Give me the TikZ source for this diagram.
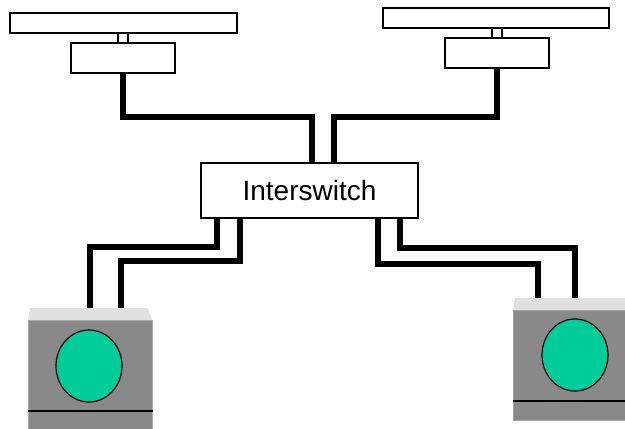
\documentclass[tikz,border=0pt]{standalone}
\usepackage{fontspec}
\setmainfont{Liberation Sans}
\usetikzlibrary{calc}
\definecolor{srvgray}{HTML}{898989}
\definecolor{srvtop}{HTML}{E0E0E0}
\definecolor{srvedge}{HTML}{A8A8A8}
\definecolor{disc}{HTML}{00CC99}
\tikzset{
  box/.style={draw=black, line width=1.4pt, fill=white, inner sep=0pt},
  wire/.style={draw=black, line width=5.5pt, line cap=butt, line join=miter},
  body/.style={fill=srvgray, draw=srvedge, line width=1pt, inner sep=0pt},
}
\begin{document}
\begin{tikzpicture}[x=1pt, y=-1pt]
\useasboundingbox (0,0) rectangle (625,429);
% top-left unit
\node[box, minimum width=227pt, minimum height=20pt] (lbar) at (123.5,23) {};
\node[box, minimum width=10pt, minimum height=10pt] (lcon) at (123,38) {};
\node[box, minimum width=104pt, minimum height=30pt] (lbox) at (123,58) {};
% top-right unit
\node[box, minimum width=226pt, minimum height=20pt] (rbar) at (496,18) {};
\node[box, minimum width=10pt, minimum height=10pt] (rcon) at (497,33) {};
\node[box, minimum width=104pt, minimum height=30pt] (rbox) at (497,53) {};
% interswitch
\node[box, line width=2pt, minimum width=217pt, minimum height=55pt, font=\fontsize{28}{32}\selectfont] (isw) at (309.5,190.5) {Interswitch};
% servers
\fill[srvtop] (30,308) -- (148,308) -- (152,320) -- (28,320) -- cycle;
\node[body, minimum width=124pt, minimum height=115pt, anchor=north west] (lsrv) at (28,320) {};
\draw[line width=1.2pt] (lsrv.west |- 0,411) -- (lsrv.east |- 0,411);
\draw[fill=disc, line width=1.2pt] (89,366) ellipse [x radius=33, y radius=36];
\fill[srvtop] (515,298) -- (630,298) -- (630,310) -- (513,310) -- cycle;
\node[body, minimum width=120pt, minimum height=110pt, anchor=north west] (rsrv) at (513,310) {};
\draw[line width=1.2pt] (rsrv.west |- 0,401) -- (625,401);
\draw[fill=disc, line width=1.2pt] (575,355) ellipse [x radius=33, y radius=36];
% connection points
\coordinate (it1) at (312,163);
\coordinate (it2) at (334,163);
\coordinate (ib1) at (217,218);
\coordinate (ib2) at (240,218);
\coordinate (ib3) at (378,218);
\coordinate (ib4) at (400,218);
\coordinate (ls1) at (90,308);
\coordinate (ls2) at (121,308);
\coordinate (rs1) at (538,298);
\coordinate (rs2) at (575,298);
% wires
\draw[wire] (lbox.south) -- (lbox.south |- 0,117) -| (it1);
\draw[wire] (rbox.south) -- (rbox.south |- 0,117) -| (it2);
\draw[wire] (ib1) -- (ib1 |- 0,247) -| (ls1);
\draw[wire] (ib2) -- (ib2 |- 0,261) -| (ls2);
\draw[wire] (ib3) -- (ib3 |- 0,264) -| (rs1);
\draw[wire] (ib4) -- (ib4 |- 0,248) -| (rs2);
\end{tikzpicture}
\end{document}
